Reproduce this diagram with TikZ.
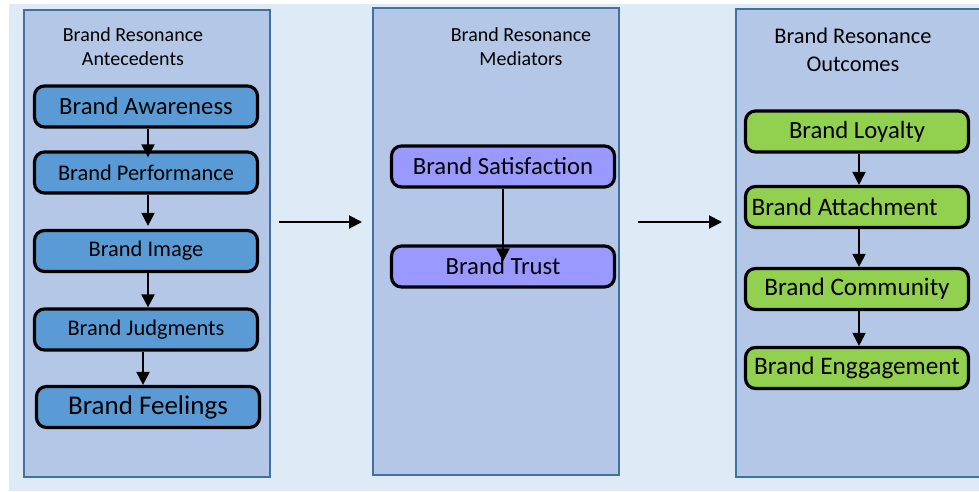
\documentclass[tikz,border=0pt]{standalone}
\usepackage{fontspec}
\setmainfont{Carlito}
\usetikzlibrary{arrows.meta}
\definecolor{PageBlue}{HTML}{DEEAF6}
\definecolor{PanelFill}{HTML}{B4C7E7}
\definecolor{PanelEdge}{HTML}{41719C}
\definecolor{AnteBlue}{HTML}{5B9BD5}
\definecolor{MedPurple}{HTML}{9999FF}
\definecolor{OutGreen}{HTML}{92D050}

\tikzset{
        panel/.style={draw=PanelEdge, line width=1.5pt, fill=PanelFill},
        stage/.style={draw=black, line width=3.2pt, rounded corners=10pt,
                minimum width=223pt, minimum height=41pt, inner sep=0pt},
        ante/.style={stage, fill=AnteBlue},
        medi/.style={stage, fill=MedPurple},
        outc/.style={stage, fill=OutGreen},
        flow/.style={-{Triangle[width=13pt,length=13pt]}, line width=2pt},
        head/.style={align=center}
}

\begin{document}
\begin{tikzpicture}[x=1pt,y=-1pt]
        \useasboundingbox (0,0) rectangle (979,491);
        \clip (0,0) rectangle (979,491);
        \fill[white] (0,0) rectangle (979,491);
        \fill[PageBlue] (9,4) rectangle (979,491);

        \draw[panel] (24,10) rectangle (270,477);
        \draw[panel] (373,8) rectangle (619,475);
        \draw[panel] (736,9) rectangle (995,477);

        \node[head, font=\fontsize{20}{23.5}\selectfont] (anteT) at (133,46.5) {Brand Resonance\\Antecedents};
        \node[head, font=\fontsize{20}{23.5}\selectfont] (mediT) at (521,46.5) {Brand Resonance\\Mediators};
        \node[head, font=\fontsize{22.4}{28}\selectfont] (outcT) at (853,50) {Brand Resonance\\Outcomes};

        \node[ante, font=\fontsize{24.7}{28}\selectfont] (aware) at (146,106.5) {Brand Awareness};
        \node[ante, font=\fontsize{22.4}{26}\selectfont] (perf) at (146,172.5) {Brand Performance};
        \node[ante, font=\fontsize{22.4}{26}\selectfont] (image) at (146,251) {Brand Image};
        \node[ante, font=\fontsize{22.4}{26}\selectfont] (judg) at (146,329.5) {Brand Judgments};
        \node[ante, font=\fontsize{27}{30}\selectfont] (feel) at (148,407) {Brand Feelings};

        \draw[flow, shorten >=-7pt] ([xshift=2pt]aware.south) -- ([xshift=2pt]perf.north);
        \draw[flow, shorten >=3pt] ([xshift=2pt]perf.south) -- ([xshift=2pt]image.north);
        \draw[flow] ([xshift=2pt]image.south) -- ([xshift=2pt]judg.north);
        \draw[flow] ([xshift=-3pt]judg.south) -- ([xshift=-5pt]feel.north);

        \node[medi, font=\fontsize{24.7}{28}\selectfont] (satis) at (503,166.5) {Brand Satisfaction};
        \node[medi, font=\fontsize{24.7}{28}\selectfont] (trust) at (503,266.5) {Brand Trust};
        \draw[flow, shorten >=-17pt] (satis) -- (trust);

        \node[outc, font=\fontsize{24.7}{28}\selectfont] (loyal) at (857,131.5) {Brand Loyalty};
        \node[outc, font=\fontsize{25.2}{29}\selectfont] (attach) at (857,207) {Brand Attachment\hspace*{25pt}};
        \node[outc, font=\fontsize{25.2}{29}\selectfont] (commun) at (857,289) {Brand Community};
        \node[outc, font=\fontsize{25.2}{29}\selectfont] (engage) at (857,368) {Brand Enggagement};

        \draw[flow] ([xshift=2pt]loyal.south) -- ([xshift=2pt]attach.north);
        \draw[flow] ([xshift=2pt]attach.south) -- ([xshift=2pt]commun.north);
        \draw[flow] ([xshift=2pt]commun.south) -- ([xshift=2pt]engage.north);

        \coordinate (gapA) at (279,222);
        \coordinate (gapB) at (362,222);
        \coordinate (gapC) at (638,222);
        \coordinate (gapD) at (722,222);
        \draw[flow] (gapA) -- (gapB);
        \draw[flow] (gapC) -- (gapD);

\end{tikzpicture}
\end{document}
